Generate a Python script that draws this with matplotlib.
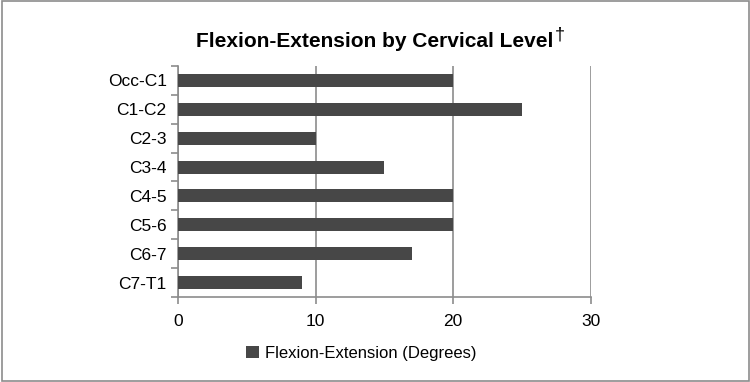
import matplotlib.pyplot as plt
import numpy as np

plt.rcParams['font.family'] = ['Liberation Sans', 'DejaVu Sans']

levels = ['Occ-C1', 'C1-C2', 'C2-3', 'C3-4', 'C4-5', 'C5-6', 'C6-7', 'C7-T1']
degrees = [20, 25, 10, 15, 20, 20, 17, 9]
series_name = 'Flexion-Extension (Degrees)'

fig = plt.figure(figsize=(7.5, 3.82), dpi=100)
ax = fig.add_axes([0.237, 0.2225, 0.551, 0.605])

grid_col = '#8c8c8c'
bar_col = '#474747'

y = np.arange(len(levels))
ax.barh(y, degrees, height=0.45, color=bar_col, label=series_name, zorder=3)
ax.set_ylim(len(levels) - 0.5, -0.5)
ax.set_xlim(0, 30)
ax.set_xticks([0, 10, 20, 30])
ax.set_yticks(y)
ax.set_yticklabels(levels, fontsize=12.5)
# category separators on the left axis
ax.set_yticks(np.arange(-0.5, len(levels)), minor=True)
ax.tick_params(axis='y', which='major', length=0, pad=8)
ax.tick_params(axis='y', which='minor', length=5, width=1.2, color=grid_col)
ax.tick_params(axis='x', length=5, width=1.2, color=grid_col, labelsize=12.5, pad=7)

ax.grid(axis='x', color=grid_col, linewidth=1.2, zorder=1)
for side in ['top', 'right']:
    ax.spines[side].set_visible(False)
for side in ['left', 'bottom']:
    ax.spines[side].set_color(grid_col)
    ax.spines[side].set_linewidth(1.2)

title = fig.text(0.5, 0.876, 'Flexion-Extension by Cervical Level',
                 ha='center', fontsize=15, fontweight='bold')
ax.annotate('\u2020', xy=(1, 1), xycoords=title, xytext=(0.5, 4),
            textcoords='offset points', ha='left', va='top',
            fontsize=13, annotation_clip=False)

fig.legend(loc='center', bbox_to_anchor=(0.482, 0.075), frameon=False,
           fontsize=12, handlelength=0.75, handleheight=0.75, handletextpad=0.4)

border = plt.Rectangle((0.002, 0.003), 0.996, 0.994, transform=fig.transFigure,
                       fill=False, edgecolor='#8c8c8c', linewidth=1.2)
fig.patches.append(border)

fig.savefig('out.png', dpi=100)
